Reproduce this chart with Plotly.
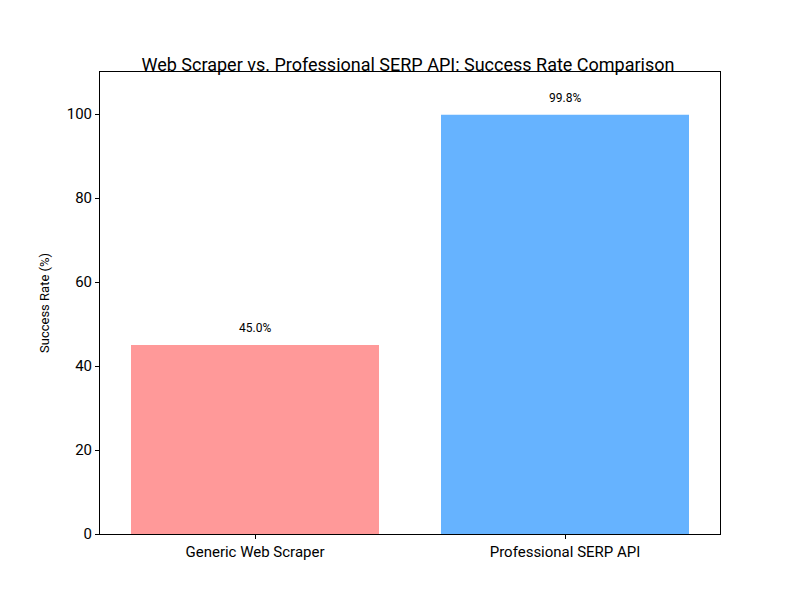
import plotly.graph_objects as go

categories = ["Generic Web Scraper", "Professional SERP API"]
success_rates = [45.0, 99.8]
bar_colors = ["#ff9999", "#66b3ff"]
y_ticks = [0, 20, 40, 60, 80, 100]

fig = go.Figure()

fig.add_trace(go.Bar(x=categories, y=success_rates,
                     marker_color=bar_colors,
                     marker_line_width=0,
                     width=0.8))

# value labels above the bars
for cat, val in zip(categories, success_rates):
    fig.add_annotation(x=cat, y=val, text=f"{val:.1f}%", showarrow=False,
                       yanchor="bottom", yshift=8,
                       font=dict(size=12, color="black"))

axis_style = dict(showline=True, linecolor="black", linewidth=1, mirror=True,
                  ticks="outside", ticklen=4, tickcolor="black",
                  showgrid=False, zeroline=False,
                  tickfont=dict(size=15, color="black"))

fig.update_layout(title=dict(text="Web Scraper vs. Professional SERP API: Success Rate Comparison",
                             x=0.5, xanchor="center", y=0.905, yanchor="middle",
                             font=dict(size=18, color="black")),
                  font=dict(family="Roboto, sans-serif"),
                  width=800, height=600,
                  margin=dict(l=92, r=88, t=64, b=74),
                  plot_bgcolor="white", paper_bgcolor="white",
                  showlegend=False,
                  xaxis=dict(range=[-0.5, 1.5], **axis_style),
                  yaxis=dict(range=[0, 110], tickvals=y_ticks,
                             title=dict(text="Success Rate (%)", font=dict(size=13, color="black"),
                                        standoff=14),
                             **axis_style))

fig.write_html("out.html")
